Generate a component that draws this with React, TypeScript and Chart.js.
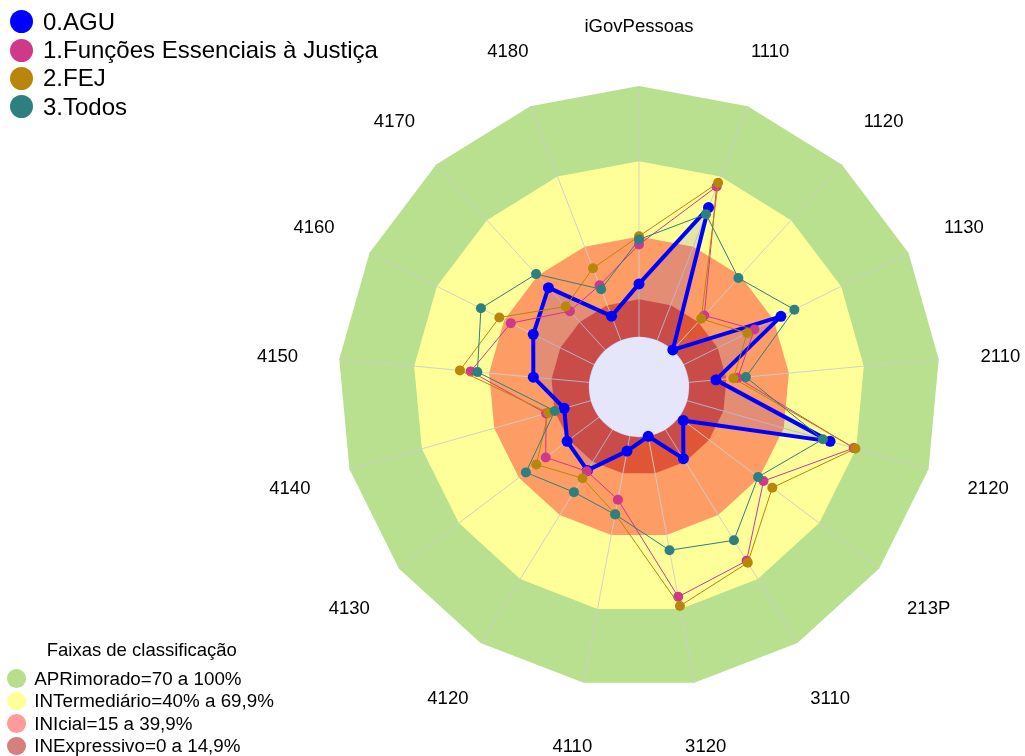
import React, { useEffect, useRef } from 'react';
import { Chart, registerables } from 'chart.js';

Chart.register(...registerables);

// ---------- data ----------
const categories = [
  'iGovPessoas', '1110', '1120', '1130', '2110', '2120', '213P', '3110', '3120',
  '4110', '4120', '4130', '4140', '4150', '4160', '4170', '4180',
];

const seriesNames = ['0.AGU', '1.Funções Essenciais à Justiça', '2.FEJ', '3.Todos'];
const seriesColors = ['#0000ff', '#d0388a', '#b8860b', '#2e7f7f'];

const aguValues = [21.1, 56.7, 0, 43.2, 10.8, 59.2, 2.1, 13.6, 0, 6.0, 19.1, 15.9, 11.0, 22.3, 27.1, 33.6, 10.3];
const fesValues = [36.8, 65.7, 18.6, 31.4, 19.5, 69.0, 42.2, 61.5, 65.1, 25.7, 19.5, 26.6, 18.5, 47.4, 37.1, 20.9, 23.5];
const fejValues = [40.1, 67.3, 16.8, 28.2, 17.8, 69.7, 46.6, 62.4, 68.8, 31.5, 22.8, 31.3, 17.6, 51.7, 42.2, 23.4, 30.8];
const todosValues = [38.8, 53.9, 38.8, 49.2, 22.8, 56.2, 39.5, 51.9, 46.2, 31.7, 29.3, 36.5, 14.9, 44.7, 50.4, 40.9, 21.8];

const bandTitle = 'Faixas de classificação';
const bandNames = [
  'APRimorado=70 a 100%',
  'INTermediário=40% a 69,9%',
  'INIcial=15 a 39,9%',
  'INExpressivo=0 a 14,9%',
];
const bandUpper = [100, 70, 40, 15];
const bandChartColors = ['#b9e08e', '#ffff99', '#fd9d65', '#e05535'];
const bandLegendColors = ['#b8de8c', '#ffff99', '#ff9b9b', '#d77e7e'];

const AXIS_MIN = -20;
const AXIS_MAX = 100;

const FONT = '"Liberation Sans", Arial, Helvetica, sans-serif';

// ---------- plugins ----------
const bandsPlugin = {
  id: 'bands',
  beforeDraw(chart: any) {
    const s = chart.scales.r;
    if (!s) return;
    const ctx = chart.ctx;
    const n = chart.data.labels.length;
    ctx.save();
    bandUpper.forEach((v, bi) => {
      ctx.beginPath();
      for (let i = 0; i < n; i++) {
        const p = s.getPointPositionForValue(i, v);
        if (i === 0) ctx.moveTo(p.x, p.y);
        else ctx.lineTo(p.x, p.y);
      }
      ctx.closePath();
      ctx.fillStyle = bandChartColors[bi];
      ctx.fill();
    });
    ctx.restore();
  },
  beforeDatasetsDraw(chart: any) {
    const s = chart.scales.r;
    if (!s) return;
    const ctx = chart.ctx;
    ctx.save();
    ctx.beginPath();
    ctx.arc(s.xCenter, s.yCenter, s.getDistanceFromCenterForValue(0), 0, Math.PI * 2);
    ctx.fillStyle = '#e6e6fa';
    ctx.fill();
    ctx.restore();
  },
  afterDraw(chart: any) {
    const s = chart.scales.r;
    if (!s) return;
    const ctx = chart.ctx;
    ctx.save();
    ctx.font = `18.5px ${FONT}`;
    ctx.fillStyle = '#000';
    ctx.textAlign = 'center';
    ctx.textBaseline = 'middle';
    const rr = s.drawingArea + 62;
    chart.data.labels.forEach((lab: string, i: number) => {
      const p = s.getPointPosition(i, rr);
      ctx.fillText(lab, p.x, p.y + 3);
    });
    ctx.restore();
  },
};

export default function App() {
  const canvasRef = useRef<HTMLCanvasElement | null>(null);

  useEffect(() => {
    if (!canvasRef.current) return;
    const values = [aguValues, fesValues, fejValues, todosValues];
    const datasets = values.map((vals, k) => ({
      label: seriesNames[k],
      data: vals,
      borderColor: seriesColors[k],
      backgroundColor: k === 0 ? 'rgba(0,0,255,0.1)' : 'rgba(0,0,0,0)',
      fill: k === 0 ? 'origin' : false,
      borderWidth: k === 0 ? 4 : 1,
      pointRadius: k === 0 ? 5.5 : 5,
      pointBorderWidth: 0,
      pointBackgroundColor: seriesColors[k],
      pointBorderColor: seriesColors[k],
      borderJoinStyle: 'round' as const,
      tension: 0,
      order: 4 - k,
    }));

    const chart = new Chart(canvasRef.current, {
      type: 'radar',
      data: { labels: categories, datasets },
      options: {
        responsive: false,
        animation: false,
        layout: { padding: { left: 338, right: 85, top: 86, bottom: 68 } },
        plugins: {
          legend: { display: false },
          tooltip: { enabled: false },
          title: { display: false },
        },
        scales: {
          r: {
            min: AXIS_MIN,
            max: AXIS_MAX,
            beginAtZero: false,
            ticks: { display: false },
            grid: { display: false },
            angleLines: { display: true, color: 'rgba(205,205,205,0.9)', lineWidth: 1 },
            pointLabels: { display: false },
          },
        },
      },
      plugins: [bandsPlugin],
    });
    return () => chart.destroy();
  }, []);

  const seriesRowY = [21.7, 50, 78.3, 106.7];
  const bandRowY = [678.5, 701, 723.5, 746];

  return (
    <div style={{ position: 'fixed', left: 0, top: 0, width: 1025, height: 756, background: '#fff', overflow: 'hidden', fontFamily: FONT }}>
      <canvas ref={canvasRef} width={1025} height={756} style={{ position: 'absolute', left: 0, top: 0, width: 1025, height: 756 }} />
      {seriesNames.map((name, k) => (
        <React.Fragment key={name}>
          <div style={{ position: 'absolute', left: 9.5, top: seriesRowY[k] - 11.5, width: 23, height: 23, borderRadius: '50%', background: seriesColors[k] }} />
          <div style={{ position: 'absolute', left: 43, top: seriesRowY[k] - 15, height: 30, lineHeight: '30px', fontSize: 24, color: '#000', whiteSpace: 'nowrap' }}>{name}</div>
        </React.Fragment>
      ))}
      <div style={{ position: 'absolute', left: 46.7, top: 649.7 - 11, height: 22, lineHeight: '22px', fontSize: 18.5, color: '#000', whiteSpace: 'nowrap' }}>{bandTitle}</div>
      {bandNames.map((name, k) => (
        <React.Fragment key={name}>
          <div style={{ position: 'absolute', left: 7.3, top: bandRowY[k] - 9.3, width: 18.7, height: 18.7, borderRadius: '50%', background: bandLegendColors[k] }} />
          <div style={{ position: 'absolute', left: 34.3, top: bandRowY[k] - 11, height: 22, lineHeight: '22px', fontSize: 18.8, color: '#000', whiteSpace: 'nowrap' }}>{name}</div>
        </React.Fragment>
      ))}
    </div>
  );
}
